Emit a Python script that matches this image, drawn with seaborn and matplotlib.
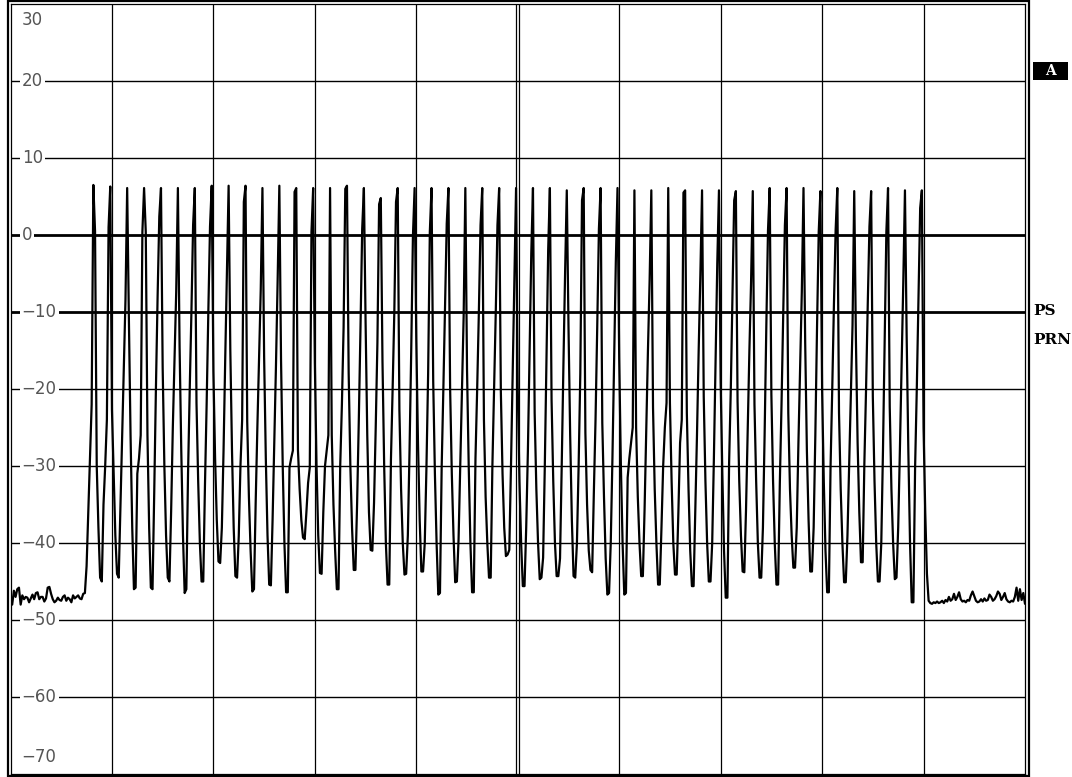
import matplotlib
matplotlib.use("Agg")
import matplotlib.pyplot as plt
import matplotlib.transforms as mtransforms
from matplotlib.patches import Rectangle
import numpy as np
import pandas as pd
import seaborn as sns

sns.set_theme(style="white")
plt.rcParams["font.family"] = ["DejaVu Sans"]

# trace level (dB), 601 sweep points: floor, 50 bursts of 10 points each, floor
noise_left = [-47.2, -48.0, -46.2, -47.0, -46.0, -45.8, -48.0, -46.8, -47.3, -47.0,
              -47.1, -47.7, -47.2, -46.7, -47.3, -46.5, -46.4, -47.3, -47.0, -47.0,
              -47.6, -47.2, -45.8, -45.7, -46.6, -47.3, -47.7, -47.5, -47.1, -47.4,
              -47.5, -47.0, -46.8, -47.5, -47.1, -47.3, -47.7, -46.8, -47.2, -47.0,
              -46.8, -47.2, -47.3, -46.6]

pulses = [
    [-46.5, -43.0, -36.0, -29.0, -22.0, 6.5, 0.5, -30.0, -38.0, -44.5],
    [-45.0, -35.0, -30.0, -24.0, 1.0, 6.3, -22.7, -31.0, -39.0, -44.0],
    [-44.5, -35.4, -26.0, -17.0, -8.4, 6.1, -10.6, -26.0, -38.0, -46.0],
    [-45.8, -31.0, -29.0, -26.0, 0.4, 6.1, 0.4, -26.0, -38.0, -45.8],
    [-46.0, -33.5, -20.0, -8.0, 2.4, 6.1, -17.3, -30.0, -39.0, -44.5],
    [-45.0, -35.9, -25.0, -16.0, -7.4, 6.1, -14.5, -28.0, -39.0, -46.5],
    [-46.0, -31.0, -20.0, -10.0, 1.3, 6.1, -21.8, -32.0, -40.0, -45.0],
    [-45.0, -32.6, -22.0, -10.0, 1.1, 6.4, -17.7, -29.0, -37.0, -42.4],
    [-42.6, -38.0, -28.0, -16.0, -4.8, 6.4, -14.9, -28.0, -38.0, -44.3],
    [-44.5, -39.1, -30.0, -24.0, 4.3, 6.4, -24.2, -34.0, -41.0, -46.3],
    [-46.0, -34.8, -25.0, -16.0, -7.1, 6.1, -15.8, -29.0, -39.0, -45.4],
    [-45.5, -37.0, -27.0, -17.0, -5.8, 6.4, -16.2, -30.0, -40.0, -46.4],
    [-46.4, -30.2, -29.0, -28.0, 5.6, 6.1, -27.9, -33.0, -37.0, -39.3],
    [-39.5, -36.0, -32.2, -30.2, 0.4, 6.1, -16.6, -30.0, -39.0, -43.9],
    [-44.0, -36.0, -30.0, -28.0, -26.0, 6.1, -26.0, -35.0, -41.0, -46.0],
    [-46.0, -30.0, -22.0, -12.0, 6.0, 6.4, -17.9, -30.0, -38.0, -43.5],
    [-43.5, -34.8, -24.0, -12.0, 0.8, 6.1, -11.2, -26.0, -36.0, -40.9],
    [-41.0, -34.8, -25.0, -14.0, 4.0, 4.8, -16.4, -30.0, -40.0, -45.4],
    [-45.4, -29.2, -20.0, -10.0, 4.3, 6.1, -22.7, -33.0, -40.0, -44.1],
    [-44.0, -39.0, -28.0, -15.0, -0.2, 6.1, -13.6, -27.0, -37.0, -43.7],
    [-43.7, -40.0, -30.2, -18.0, 0.4, 6.1, -19.0, -31.0, -40.0, -46.7],
    [-46.5, -30.2, -20.0, -9.0, 1.5, 6.1, -19.9, -31.0, -39.0, -45.1],
    [-45.0, -39.5, -30.0, -20.0, -10.6, 6.1, -17.5, -30.0, -40.0, -46.4],
    [-46.4, -29.0, -20.0, -10.0, 1.3, 6.1, -24.0, -34.0, -40.0, -44.5],
    [-44.5, -30.0, -20.0, -10.0, 1.3, 6.1, -20.3, -31.0, -38.0, -41.7],
    [-41.5, -40.9, -30.0, -18.0, -6.3, 6.1, -20.0, -32.0, -40.0, -45.6],
    [-45.6, -38.0, -28.0, -15.0, -2.4, 6.1, -23.1, -33.0, -40.0, -44.7],
    [-44.5, -41.9, -30.0, -16.0, -1.9, 6.1, -21.4, -32.0, -40.0, -44.3],
    [-44.3, -42.0, -30.0, -17.0, -4.9, 5.8, -11.7, -26.0, -37.0, -44.3],
    [-44.5, -40.0, -30.0, -18.0, 4.5, 6.1, -25.7, -35.0, -41.0, -43.5],
    [-43.8, -33.5, -24.0, -12.0, 0.8, 6.1, -24.4, -34.0, -42.0, -46.7],
    [-46.5, -40.0, -29.0, -16.0, -3.5, 6.1, -16.0, -30.0, -40.0, -46.7],
    [-46.5, -31.5, -29.0, -27.0, -25.0, 5.8, -25.0, -34.0, -40.0, -44.3],
    [-44.3, -35.7, -25.0, -15.0, -5.8, 5.8, -22.4, -33.0, -40.0, -45.4],
    [-45.4, -38.0, -30.0, -25.0, -21.8, 6.1, -21.8, -32.0, -40.0, -44.1],
    [-44.1, -36.0, -27.0, -24.0, 5.5, 5.8, -23.1, -33.0, -41.0, -45.6],
    [-45.6, -36.0, -26.0, -15.0, -5.2, 5.8, -21.0, -32.0, -40.0, -45.0],
    [-45.0, -40.0, -29.0, -16.0, -3.7, 5.8, -19.1, -31.0, -41.0, -47.1],
    [-47.1, -29.6, -20.0, -8.0, 4.5, 5.7, -21.6, -32.0, -39.0, -43.7],
    [-43.8, -35.7, -25.0, -15.0, -6.0, 5.7, -22.0, -32.0, -40.0, -44.5],
    [-44.5, -38.0, -26.0, -12.0, 0.6, 6.1, -20.7, -32.0, -40.0, -45.4],
    [-45.4, -32.2, -22.0, -10.0, 1.3, 6.1, -23.1, -33.0, -39.0, -43.2],
    [-43.2, -38.0, -27.0, -17.0, -7.4, 6.1, -14.0, -28.0, -37.0, -43.7],
    [-43.7, -38.0, -26.0, -12.0, 0.4, 5.7, -20.1, -32.0, -41.0, -46.4],
    [-46.4, -30.1, -20.0, -9.0, 0.6, 6.1, -23.1, -33.0, -40.0, -45.1],
    [-45.1, -39.0, -30.0, -21.0, -11.7, 5.7, -13.6, -27.0, -36.0, -42.5],
    [-42.5, -29.6, -20.0, -9.0, 1.1, 5.7, -21.0, -32.0, -40.0, -45.0],
    [-45.0, -40.0, -28.0, -14.0, 0.4, 6.1, -22.3, -33.0, -40.0, -44.7],
    [-44.5, -38.0, -28.0, -17.0, -6.3, 5.8, -13.0, -28.0, -40.0, -47.7],
    [-47.7, -30.2, -20.0, -8.0, 3.5, 5.8, -25.0, -36.0, -44.0, -47.5],
]

noise_right = [-47.8, -47.9, -47.7, -47.8, -47.6, -47.8, -47.7, -47.5, -47.8, -47.4,
               -47.6, -47.0, -47.5, -47.3, -46.6, -47.4, -47.0, -46.4, -47.3, -47.6,
               -47.5, -47.7, -47.4, -47.5, -46.8, -46.3, -46.9, -47.5, -47.7, -47.6,
               -47.3, -47.6, -47.2, -47.5, -47.4, -46.7, -47.0, -47.5, -47.3, -46.9,
               -46.3, -46.6, -47.4, -47.0, -46.5, -47.3, -47.6, -47.7, -47.5, -47.6,
               -47.0, -45.8, -47.5, -46.0, -47.4, -46.5, -47.9]

grid_levels = [20, 10, 0, -10, -20, -30, -40, -50, -60]
grid_labels = ["20", "10", "0", "\u221210", "\u221220", "\u221230", "\u221240", "\u221250", "\u221260"]
top_label, bottom_label = "30", "\u221270"
side_labels = ["PS", "PRN"]

trace = noise_left + [v for p in pulses for v in p] + noise_right
df = pd.DataFrame({"point": np.arange(len(trace)), "level": trace})

W, H = 1072, 777
fig = plt.figure(figsize=(W / 100, H / 100), dpi=100)
ax = fig.add_axes([10.5 / W, 3 / H, 1014.5 / W, 770 / H])
ax.set_xlim(0, len(trace) - 1)
ax.set_ylim(-70, 30)
ax.set_xticks([])
ax.set_yticks([])
for s in ax.spines.values():
    s.set_color("black")
    s.set_linewidth(0.9)

# graticule
for gx in range(60, 600, 60):
    if gx == 300:
        ax.axvline(gx - 0.9, color="black", lw=0.9, zorder=1)
        ax.axvline(gx + 0.9, color="black", lw=0.9, zorder=1)
    else:
        ax.axvline(gx, color="black", lw=0.9, zorder=1)
for gy in grid_levels:
    lw = 2.0 if gy in (0, -10) else 1.0
    ax.axhline(gy, color="black", lw=lw, zorder=1)

sns.lineplot(data=df, x="point", y="level", color="black", linewidth=1.6,
             ax=ax, zorder=3)
ax.set_xlabel("")
ax.set_ylabel("")

# level labels sitting on the grid lines
trans = mtransforms.blended_transform_factory(ax.transAxes, ax.transData)
lab_kw = dict(fontsize=12, color="#555555", ha="left", va="center", zorder=2,
              bbox=dict(facecolor="white", edgecolor="none", pad=1.5))
for gy, lab in zip(grid_levels, grid_labels):
    ax.text(0.011, gy, lab, transform=trans, **lab_kw)
down = mtransforms.ScaledTranslation(0, -16 / 100, fig.dpi_scale_trans)
up = mtransforms.ScaledTranslation(0, 17 / 100, fig.dpi_scale_trans)
ax.text(0.011, 30, top_label, transform=trans + down, **lab_kw)
ax.text(0.011, -70, bottom_label, transform=trans + up, **lab_kw)

# outer frame
fig.patches.append(Rectangle((7.5 / W, 1.5 / H), 1021.5 / W, 774.5 / H,
                             transform=fig.transFigure, fill=False,
                             edgecolor="black", linewidth=1.6))

# right-hand annotations
fig.patches.append(Rectangle((1033 / W, 1 - 80 / H), 35 / W, 18 / H,
                             transform=fig.transFigure, facecolor="black",
                             edgecolor="none"))
slab = dict(family=["DejaVu Serif"], fontweight="bold")
fig.text(1050.5 / W, 1 - 71 / H, "A", color="white", fontsize=10,
         ha="center", va="center", **slab)
fig.text(1033 / W, 1 - 311 / H, side_labels[0], color="black", fontsize=11,
         ha="left", va="center", **slab)
fig.text(1033 / W, 1 - 340 / H, side_labels[1], color="black", fontsize=11,
         ha="left", va="center", **slab)

fig.savefig("out.png", dpi=100, facecolor="white")
